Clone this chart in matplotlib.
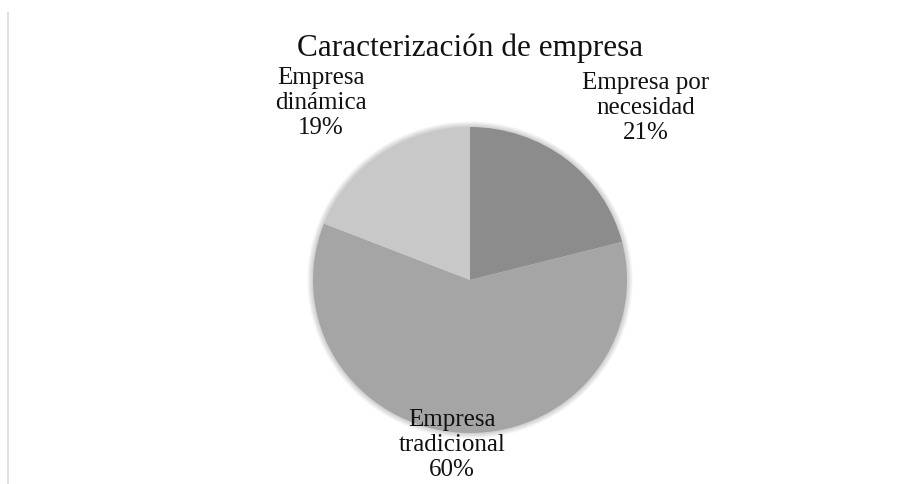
import matplotlib.pyplot as plt
from matplotlib.lines import Line2D
from matplotlib.patches import Circle

# Company characterisation shares
categories = ["Empresa por\nnecesidad", "Empresa\ntradicional", "Empresa\ndinámica"]
shares = [21, 60, 19]
colors = ["#8c8c8c", "#a5a5a5", "#c8c8c8"]

W, H = 919, 484
fig = plt.figure(figsize=(W / 100, H / 100), dpi=100)
plt.rcParams['font.family'] = ['Liberation Serif', 'DejaVu Serif']

# pie centre (470, 280) px, slightly wider than tall
cx, cy, rx, ry = 470, 280, 157, 153
ax = fig.add_axes([(cx - rx) / W, (H - cy - ry) / H, 2 * rx / W, 2 * ry / H])

# soft shadow around the rim
for k in range(6):
    ax.add_patch(Circle((0, 0), 1.0 + 0.006 * (k + 1), color='#000000',
                        alpha=0.03, linewidth=0, zorder=0, clip_on=False))

wedges, _ = ax.pie(shares, colors=colors, startangle=90, counterclock=False,
                   radius=1.0, wedgeprops=dict(linewidth=0, zorder=2))
for w in wedges:
    w.set_clip_on(False)
ax.set_xlim(-1, 1)
ax.set_ylim(-1, 1)
ax.set_aspect('auto')
ax.axis('off')

# label anchor points in pixels (centre of text block)
label_pos = [(646, 108), (452, 445), (321, 103)]
for name, val, (px, py) in zip(categories, shares, label_pos):
    fig.text(px / W, 1 - py / H, f"{name}\n{val}%", ha='center', va='center',
             fontsize=18, linespacing=1.15, color='#111111')

fig.text(470 / W, 1 - 48 / H, "Caracterización de empresa", ha='center',
         va='center', fontsize=22.5, color='#111111')

# thin frame line on the left edge
fig.add_artist(Line2D([8 / W, 8 / W], [0, 1 - 13 / H], transform=fig.transFigure,
                      color='#e0e0e0', linewidth=1.5))

fig.savefig("out.png", dpi=100)
